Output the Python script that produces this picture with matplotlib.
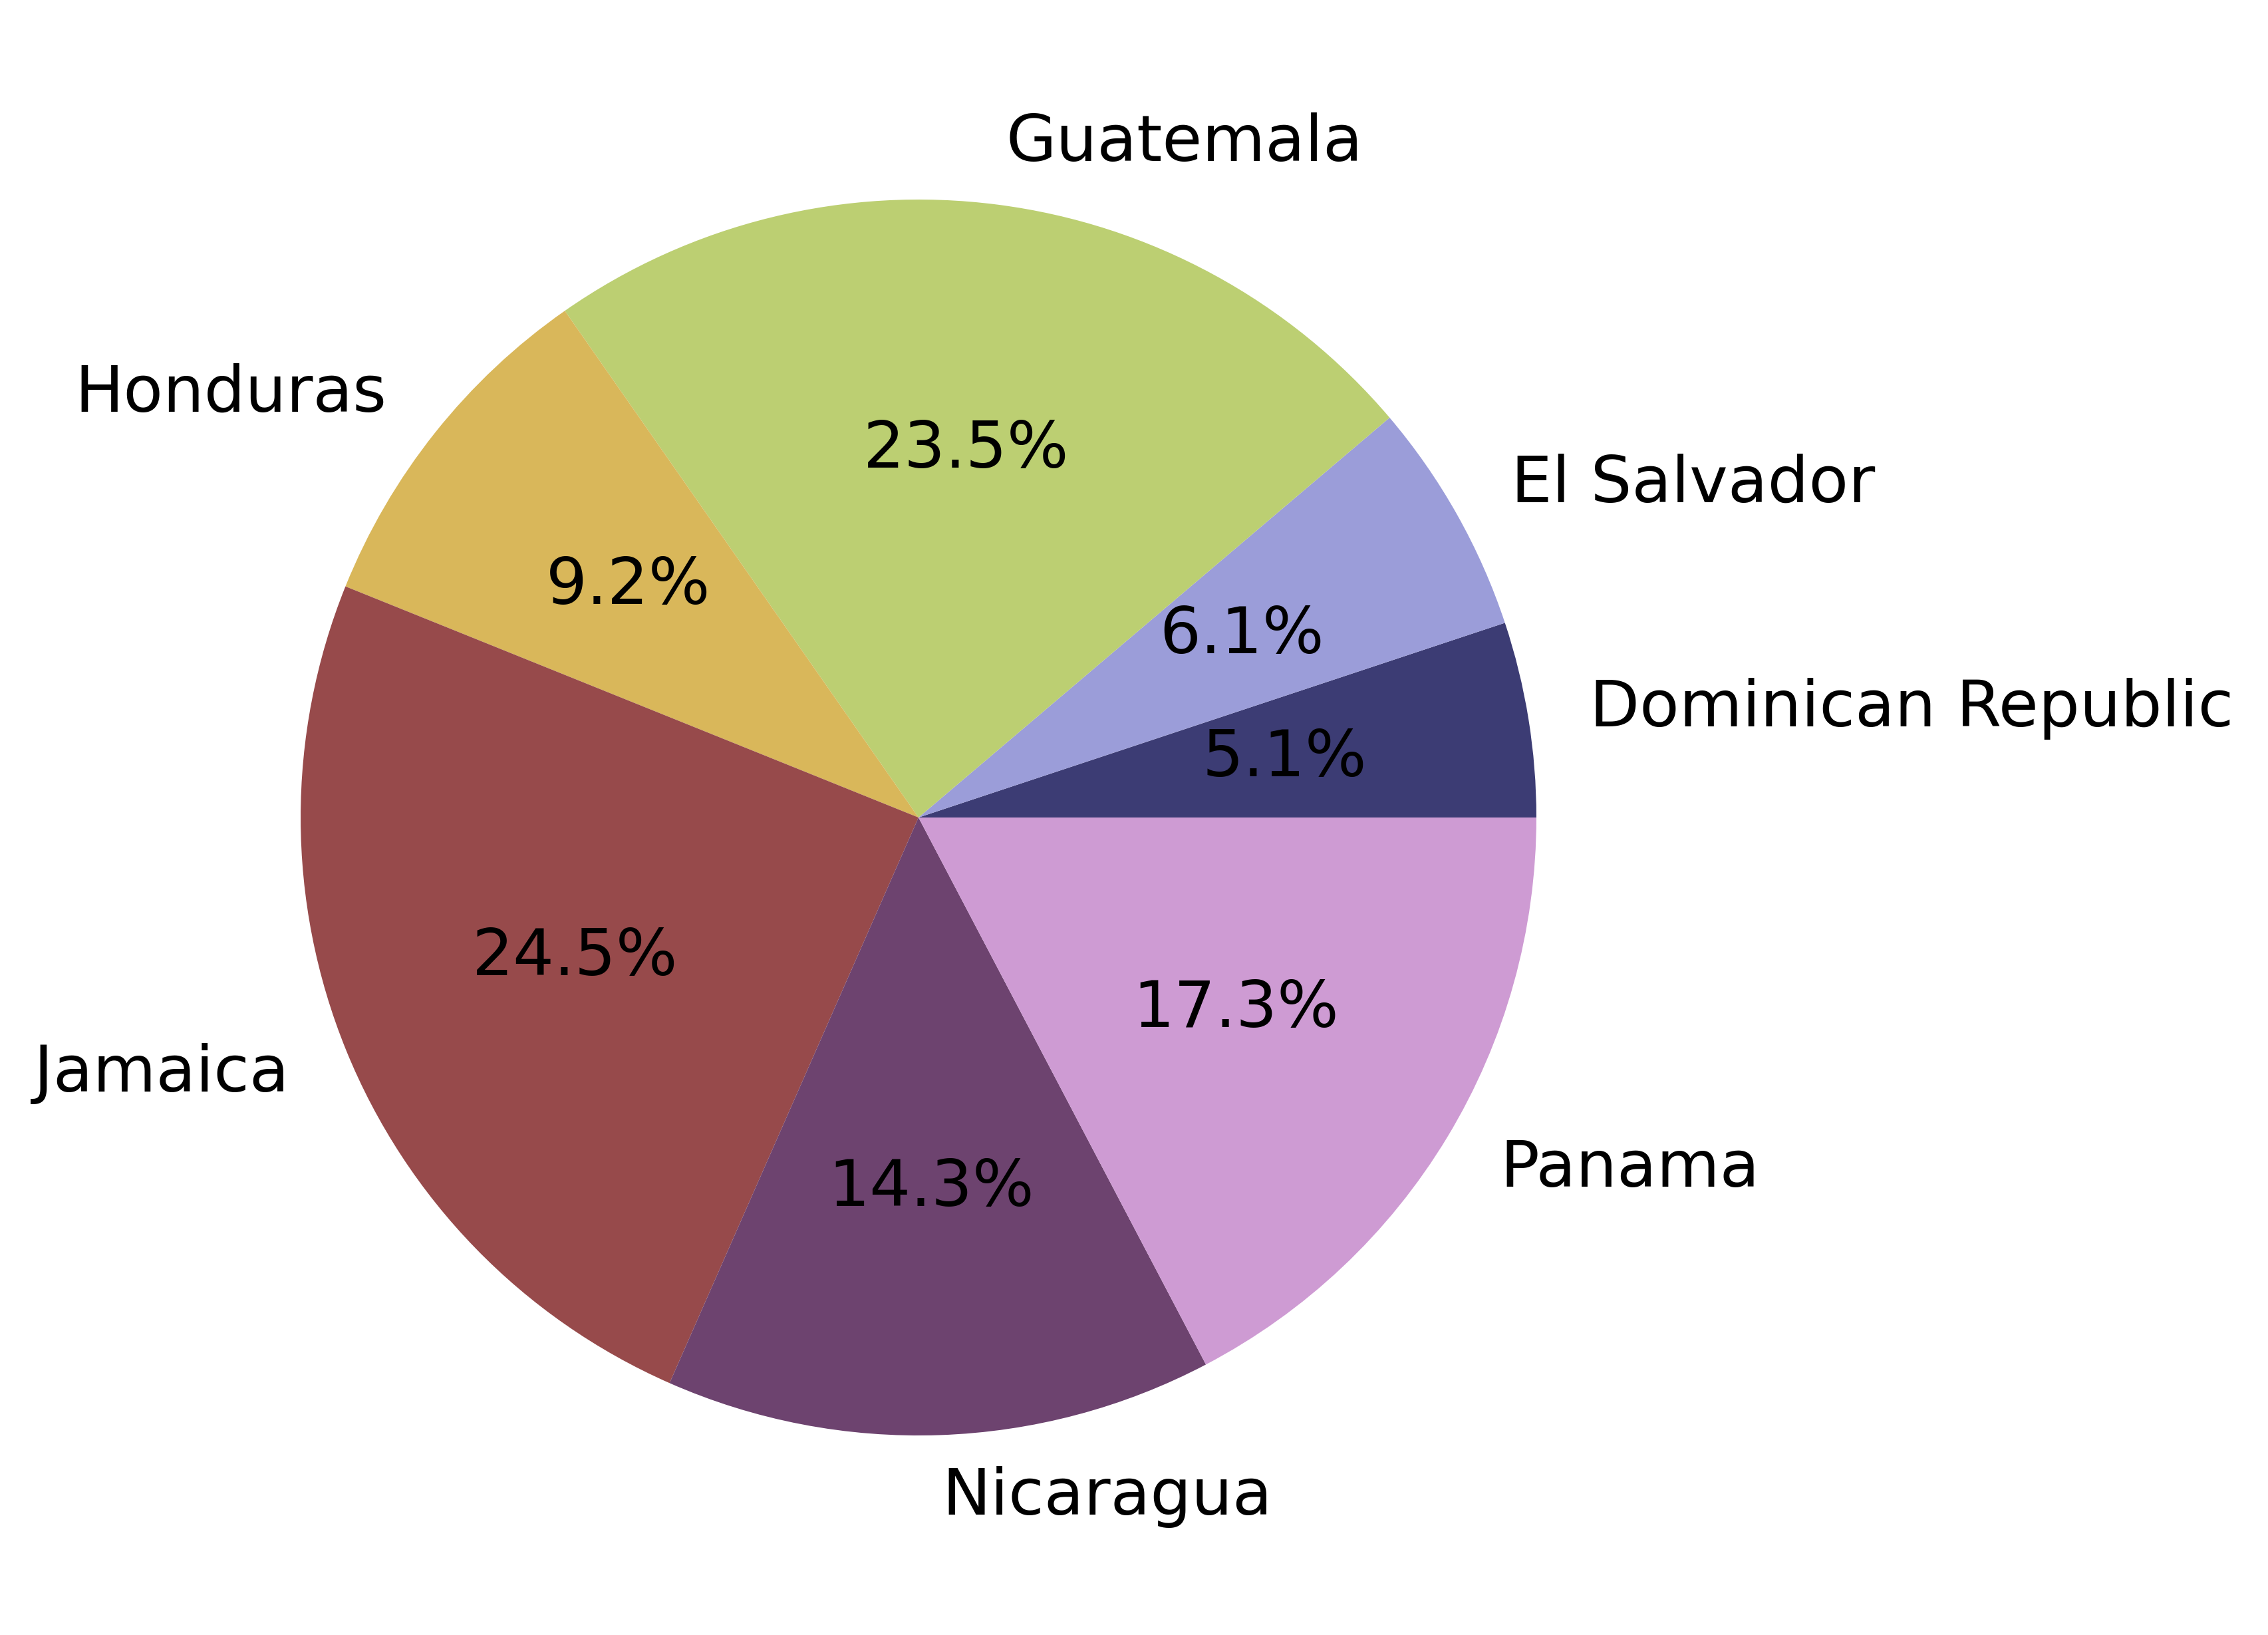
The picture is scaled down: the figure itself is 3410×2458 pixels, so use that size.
import matplotlib
matplotlib.use("Agg")
import matplotlib.pyplot as plt

countries = ["Dominican Republic", "El Salvador", "Guatemala", "Honduras",
             "Jamaica", "Nicaragua", "Panama"]
shares = [5.1, 6.1, 23.5, 9.2, 24.5, 14.3, 17.3]
colors = ["#3c3c74", "#9b9dd9", "#bccf72", "#d9b75a", "#974a4b", "#6d436f", "#ce9bd3"]

W, H = 3411, 2458
dpi = 300
fig = plt.figure(figsize=(W / dpi, H / dpi), dpi=dpi)
ax = fig.add_axes([0, 0, 1, 1])
ax.pie(shares, labels=countries, colors=colors, autopct="%1.1f%%",
       startangle=0, textprops={"fontsize": 23.4})
cx, cy, r = 1381, 1229, 929
ax.set_aspect("auto")
ax.set_xlim(-cx / r, (W - cx) / r)
ax.set_ylim(-(H - cy) / r, cy / r)
ax.axis("off")
fig.savefig("out.png", dpi=dpi)
